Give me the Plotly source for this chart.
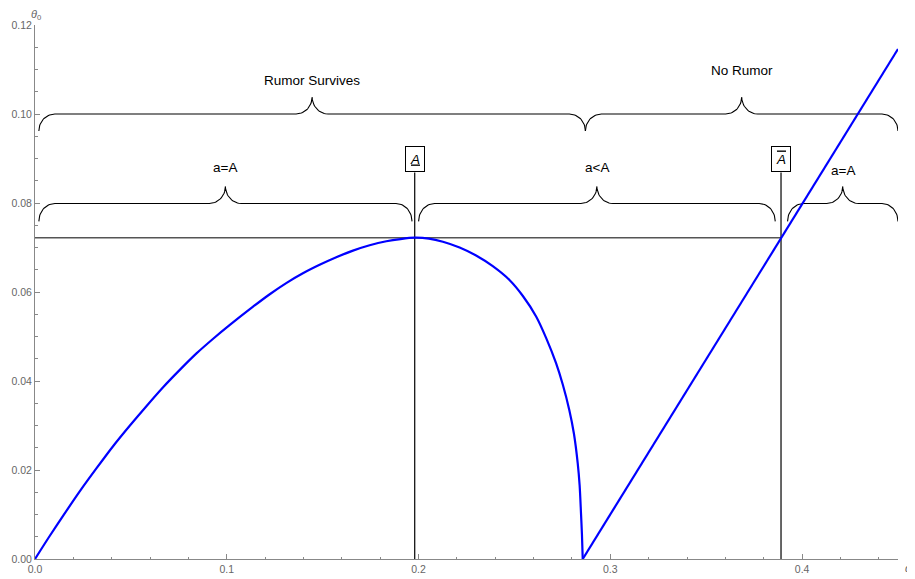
import numpy as np
import plotly.graph_objects as go

# ---------------- data ----------------
curve_x = [0.0, 0.0074, 0.0148, 0.0235, 0.0321, 0.0408, 0.0495, 0.0582, 0.0668,
           0.0755, 0.0842, 0.0929, 0.1016, 0.1137, 0.1224, 0.1310, 0.1397,
           0.1484, 0.1571, 0.1658, 0.1745, 0.1832, 0.1906, 0.1980, 0.2054,
           0.2127, 0.2214, 0.2300, 0.2387, 0.2474, 0.2544, 0.2613, 0.2665,
           0.2717, 0.2752, 0.2786, 0.2810, 0.2830, 0.2840, 0.2847, 0.2852, 0.2856]
curve_y = [0.0, 0.0050, 0.0098, 0.0153, 0.0204, 0.0254, 0.0300, 0.0344, 0.0386,
           0.0425, 0.0462, 0.0495, 0.0526, 0.0567, 0.0595, 0.0620, 0.0642,
           0.0661, 0.0678, 0.0693, 0.0705, 0.0714, 0.0719, 0.0722, 0.0720,
           0.0713, 0.0700, 0.0682, 0.0658, 0.0627, 0.0591, 0.0545, 0.0497,
           0.0440, 0.0392, 0.0335, 0.0282, 0.0215, 0.0165, 0.0103, 0.0055, 0.0]
line_x = [0.2856, 0.45]
line_y = [0.0, 0.1146]

A_low = 0.198
A_high = 0.389
theta_star = 0.0722

top_brace_x0 = [0.002, 0.287]
top_brace_x1 = [0.287, 0.450]
top_brace_y = 0.10
top_labels = ["Rumor Survives", "No Rumor"]
top_label_y = [0.1076, 0.1097]

low_brace_x0 = [0.002, 0.200, 0.3924]
low_brace_x1 = [0.1966, 0.386, 0.450]
low_brace_y = 0.0799
low_labels = ["a=A", "a&lt;A", "a=A"]
low_label_y = [0.0879, 0.0879, 0.0874]

box_label_y = 0.0898

x_range = [0, 0.45]
y_range = [0, 0.12]

# ---------------- layout geometry ----------------
# the page body adds an 8 px offset, so the figure is drawn 8 px smaller
W, H = 907, 571
ML, MR, MT, MB = 27, 17, 17, 20
PX_X = (W - ML - MR) / (x_range[1] - x_range[0])
PX_Y = (H - MT - MB) / (y_range[1] - y_range[0])


def brace(x0, x1, y, r_px=16, d_end=17, d_peak=17):
    rx = r_px / PX_X
    ry_e = d_end / PX_Y
    ry_p = d_peak / PX_Y
    xm = (x0 + x1) / 2
    xs, ys = [], []

    def arc(cx, cy, ry, t0, t1):
        t = np.linspace(t0, t1, 20)
        xs.extend(cx + rx * np.cos(t))
        ys.extend(cy + ry * np.sin(t))

    arc(x0 + rx, y - ry_e, ry_e, np.pi, np.pi / 2)
    arc(xm - rx, y + ry_p, ry_p, -np.pi / 2, 0)
    arc(xm + rx, y + ry_p, ry_p, np.pi, 3 * np.pi / 2)
    arc(x1 - rx, y - ry_e, ry_e, np.pi / 2, 0)
    return xs, ys


fig = go.Figure()

for x0, x1 in zip(top_brace_x0, top_brace_x1):
    bx, by = brace(x0, x1, top_brace_y)
    fig.add_trace(go.Scatter(x=bx, y=by, mode="lines",
                             line=dict(color="black", width=1.1),
                             hoverinfo="skip", showlegend=False))
for x0, x1 in zip(low_brace_x0, low_brace_x1):
    bx, by = brace(x0, x1, low_brace_y, d_end=18)
    fig.add_trace(go.Scatter(x=bx, y=by, mode="lines",
                             line=dict(color="black", width=1.1),
                             hoverinfo="skip", showlegend=False))

box_bottom = box_label_y - 13 / PX_Y
fig.add_trace(go.Scatter(x=[0, A_high], y=[theta_star, theta_star], mode="lines",
                         line=dict(color="#555555", width=1.6),
                         hoverinfo="skip", showlegend=False))
for xv in [A_low, A_high]:
    fig.add_trace(go.Scatter(x=[xv, xv], y=[0, box_bottom], mode="lines",
                             line=dict(color="black", width=1.2),
                             hoverinfo="skip", showlegend=False))

fig.add_trace(go.Scatter(x=curve_x, y=curve_y, mode="lines",
                         line=dict(color="#0000ff", width=2.2, shape="spline", smoothing=0.8),
                         showlegend=False))
fig.add_trace(go.Scatter(x=line_x, y=line_y, mode="lines",
                         line=dict(color="#0000ff", width=2.2),
                         showlegend=False))

FONT = "Liberation Sans, Arial, sans-serif"
annotations = []
for x0, x1, t, ly in zip(top_brace_x0, top_brace_x1, top_labels, top_label_y):
    annotations.append(dict(x=(x0 + x1) / 2, y=ly, text=t, showarrow=False,
                            font=dict(family=FONT, size=13.5, color="black")))
for x0, x1, t, ly in zip(low_brace_x0, low_brace_x1, low_labels, low_label_y):
    annotations.append(dict(x=(x0 + x1) / 2, y=ly, text=t, showarrow=False,
                            font=dict(family=FONT, size=13.5, color="black")))

box_texts = ['<span style="text-decoration:underline"><i>A</i></span>',
             '<span style="text-decoration:overline"><i>A</i></span>']
for xv, t in zip([A_low, A_high], box_texts):
    annotations.append(dict(x=xv, y=box_label_y, text=t, showarrow=False,
                            font=dict(family=FONT, size=13.5, color="black"),
                            bordercolor="black", borderwidth=1, borderpad=1,
                            bgcolor="white", width=16, height=22))

annotations.append(dict(x=0, y=1, xref="x", yref="paper", yanchor="bottom",
                        xanchor="center", xshift=1, yshift=2, borderpad=0,
                        text="<i>θ</i><sub>0</sub>", showarrow=False,
                        font=dict(family=FONT, size=11, color="#666666")))
annotations.append(dict(x=1, y=0, xref="paper", yref="paper", xanchor="left",
                        yanchor="middle", xshift=6, yshift=-9, borderpad=0,
                        text="<i>α</i>", showarrow=False,
                        font=dict(family=FONT, size=11, color="#666666")))

axis_common = dict(showgrid=False, zeroline=False, showline=True, linecolor="#888888",
                   linewidth=1, ticks="inside", tickcolor="#888888", tickwidth=1,
                   automargin=False,
                   tickfont=dict(family=FONT, size=10.5, color="#666666"), mirror=False)

fig.update_layout(
    width=W, height=H,
    margin=dict(l=ML, r=MR, t=MT, b=MB),
    plot_bgcolor="white", paper_bgcolor="white",
    xaxis=dict(range=x_range, dtick=0.1, tick0=0, tickformat=".1f", ticklen=5,
               minor=dict(dtick=0.02, ticklen=2.5, ticks="inside", tickcolor="#888888"),
               **axis_common),
    yaxis=dict(range=y_range, dtick=0.02, tick0=0, tickformat=".2f", ticklen=5,
               minor=dict(dtick=0.005, ticklen=2.5, ticks="inside", tickcolor="#888888"),
               **axis_common),
    annotations=annotations,
)

fig.write_html("out.html")
